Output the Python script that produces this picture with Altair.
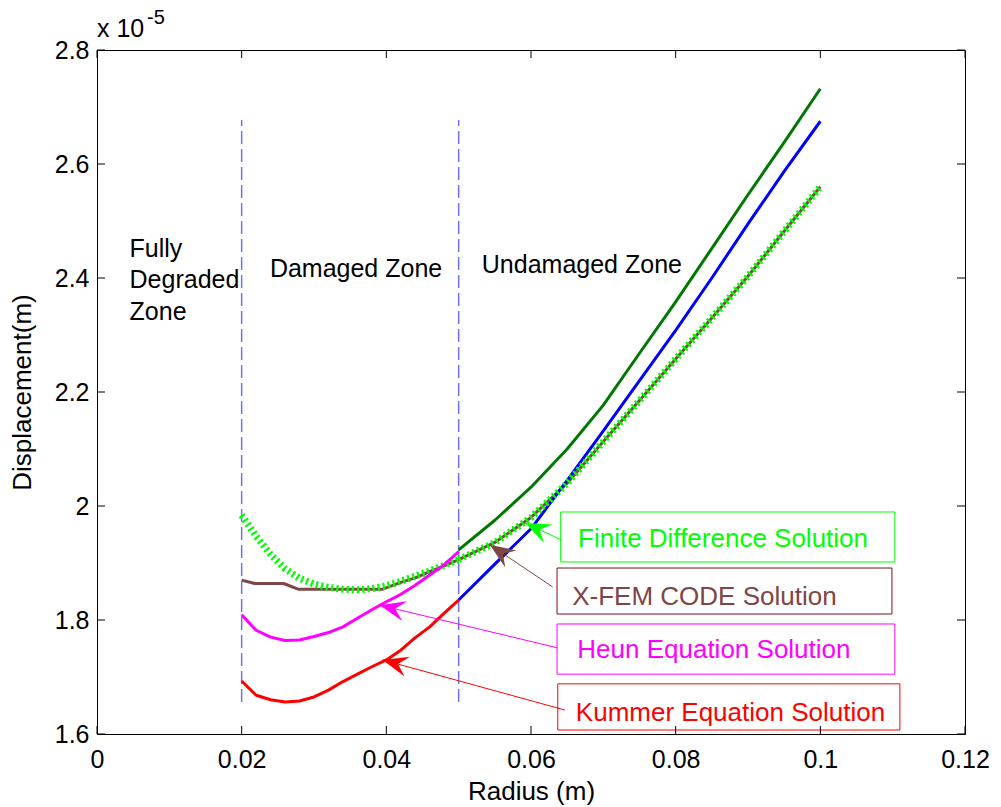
import math
import altair as alt
import pandas as pd

# ---------------- data (displacement in units of 1e-5 m) ----------------
x_ticks = [0, 0.02, 0.04, 0.06, 0.08, 0.1, 0.12]
y_ticks = [1.6, 1.8, 2.0, 2.2, 2.4, 2.6, 2.8]

r_damaged = [0.020, 0.022, 0.024, 0.026, 0.028, 0.030, 0.032, 0.034,
             0.036, 0.038, 0.040, 0.042, 0.044, 0.046, 0.048, 0.050]
kummer_damaged = [1.693, 1.668, 1.660, 1.656, 1.658, 1.665, 1.677, 1.692,
                  1.705, 1.718, 1.730, 1.747, 1.769, 1.788, 1.812, 1.835]
heun_damaged = [1.809, 1.782, 1.770, 1.764, 1.765, 1.771, 1.778, 1.788,
                1.803, 1.818, 1.832, 1.845, 1.861, 1.879, 1.897, 1.920]
fd_damaged = [1.984, 1.947, 1.915, 1.890, 1.873, 1.863, 1.857, 1.854,
              1.853, 1.855, 1.860, 1.868, 1.877, 1.886, 1.896, 1.906]
r_xfem_damaged = [0.020, 0.0218, 0.0258, 0.0278, 0.0395, 0.042, 0.044, 0.046, 0.048, 0.050]
xfem_damaged = [1.870, 1.864, 1.864, 1.854, 1.854, 1.866, 1.874, 1.885, 1.895, 1.906]

r_undamaged = [0.050, 0.055, 0.060, 0.065, 0.070, 0.075, 0.080, 0.085, 0.090, 0.095, 0.100]
kummer_undamaged = [1.835, 1.898, 1.960, 2.045, 2.132, 2.220, 2.308, 2.400, 2.495, 2.587, 2.675]
heun_undamaged = [1.923, 1.975, 2.033, 2.100, 2.177, 2.268, 2.358, 2.452, 2.546, 2.638, 2.732]
xfem_undamaged = [1.906, 1.936, 1.980, 2.040, 2.113, 2.185, 2.258, 2.330, 2.403, 2.482, 2.560]
fd_undamaged = [1.906, 1.936, 1.980, 2.040, 2.113, 2.185, 2.258, 2.330, 2.403, 2.482, 2.560]

zone_bounds = [0.02, 0.05]
zone_line_lo = 1.656
zone_line_hi = 2.677

zone_text = ["Fully", "Degraded", "Zone", "Damaged Zone", "Undamaged Zone"]
zone_r = [0.0045, 0.0045, 0.0045, 0.0239, 0.0532]
zone_v = [2.4368, 2.3825, 2.3263, 2.4018, 2.4088]

ann_labels = ["Finite Difference Solution", "X-FEM CODE Solution",
              "Heun Equation Solution", "Kummer Equation Solution"]
ann_text_colors = ["#00ff00", "#804545", "#ff00ff", "#ff0000"]
ann_edge_colors = ["#00ff00", "#7a1010", "#ff00ff", "#ff0000"]
box_r0 = [0.0641, 0.0636, 0.0636, 0.0637]
box_r1 = [0.1103, 0.1099, 0.1103, 0.1110]
box_v0 = [1.9018, 1.8105, 1.7050, 1.6070]
box_v1 = [1.9895, 1.8912, 1.7930, 1.6880]
text_r = [0.0665, 0.0657, 0.0664, 0.0662]
text_v = [1.9281, 1.8263, 1.7333, 1.6228]
arrow_r0 = [0.0643, 0.0630, 0.0637, 0.0647]
arrow_v0 = [1.940, 1.858, 1.751, 1.642]
arrow_r1 = [0.0592, 0.0543, 0.0391, 0.0395]
arrow_v1 = [1.970, 1.932, 1.826, 1.730]

# ---------------- layout ----------------
W, H = 868, 684
FONT = "Liberation Sans"
xs = alt.Scale(domain=[0, 0.12], nice=False, zero=False)
ys = alt.Scale(domain=[1.6, 2.8], nice=False, zero=False)

x_axis = alt.Axis(values=x_ticks, format=".2~g", title="Radius (m)", grid=False, ticks=False,
                  domain=False, labelFontSize=25, labelPadding=13, labelFlush=False,
                  labelOverlap=False, labelColor="black", labelFont=FONT,
                  titleFont=FONT, titleFontSize=26, titleFontWeight="normal",
                  titleColor="black", titleX=W / 2, titleY=65, titleBaseline="alphabetic")
y_axis = alt.Axis(values=y_ticks, format=".2~g", title="Displacement(m)", grid=False, ticks=False,
                  domain=False, labelFontSize=25, labelPadding=8, labelOverlap=False,
                  labelColor="black", labelFont=FONT, titleFont=FONT, titleFontSize=26,
                  titleFontWeight="normal", titleColor="black", titleAngle=270,
                  titleX=-67, titleY=H / 2, titleBaseline="alphabetic", titleAlign="center")


def X(field):
    return alt.X(field, type="quantitative", scale=xs, axis=x_axis)


def Y(field):
    return alt.Y(field, type="quantitative", scale=ys, axis=y_axis)


def line(rs, vs, color, width=3, dash=None):
    df = pd.DataFrame({"r": rs, "v": vs})
    kw = dict(color=color, strokeWidth=width, strokeCap="butt", strokeJoin="round")
    if dash:
        kw["strokeDash"] = dash
    return alt.Chart(df).mark_line(**kw).encode(x=X("r"), y=Y("v"), order="r:Q")


# zone separators
zdf = pd.DataFrame({"r": zone_bounds, "v": [zone_line_lo] * 2, "v2": [zone_line_hi] * 2})
zone_lines = alt.Chart(zdf).mark_rule(color="#7070ff", strokeWidth=1.5, strokeDash=[13, 5]).encode(
    x=X("r"), y=Y("v"), y2="v2")

layers = [
    zone_lines,
    line(r_xfem_damaged, xfem_damaged, "#804545"),
    line(r_undamaged, xfem_undamaged, "#804545"),
    line(r_undamaged, kummer_undamaged, "#0000ff"),
    line(r_undamaged, heun_undamaged, "#007800"),
    line(r_damaged, kummer_damaged, "#ff0000"),
    line(r_damaged, fd_damaged, "#00ff00", width=7, dash=[2.2, 3]),
    line(r_undamaged, fd_undamaged, "#00ff00", width=7, dash=[2.2, 3]),
    line(r_damaged, heun_damaged, "#ff00ff"),
]

# zone labels
zt = pd.DataFrame({"r": zone_r, "v": zone_v, "t": zone_text})
layers.append(alt.Chart(zt).mark_text(align="left", baseline="alphabetic", font=FONT,
                                       fontSize=25, color="black").encode(
    x=X("r"), y=Y("v"), text="t:N"))

# annotation boxes, arrows, text
px_per_r = W / 0.12
px_per_v = H / 1.2
angles = []
for a0, b0, a1, b1 in zip(arrow_r0, arrow_v0, arrow_r1, arrow_v1):
    dx = (a1 - a0) * px_per_r
    dy = -(b1 - b0) * px_per_v
    angles.append(math.degrees(math.atan2(dy, dx)) % 360)

adf = pd.DataFrame({
    "label": ann_labels, "r": box_r0, "r2": box_r1, "v": box_v0, "v2": box_v1,
    "tr": text_r, "tv": text_v, "ar0": arrow_r0, "av0": arrow_v0,
    "ar1": arrow_r1, "av1": arrow_v1, "ang": angles,
})
edge_scale = alt.Scale(domain=ann_labels, range=ann_edge_colors)
text_scale = alt.Scale(domain=ann_labels, range=ann_text_colors)

boxes = alt.Chart(adf).mark_rect(fillOpacity=0, strokeWidth=1).encode(
    x=X("r"), x2="r2", y=Y("v"), y2="v2",
    stroke=alt.Stroke("label:N", scale=edge_scale, legend=None))
arrow_lines = alt.Chart(adf).mark_rule(strokeWidth=1).encode(
    x=X("ar0"), y=Y("av0"), x2="ar1", y2="av1",
    color=alt.Color("label:N", scale=text_scale, legend=None))
ARROW = "M0,0 L-1,-0.4 L-0.62,0 L-1,0.4 Z"
arrow_heads = alt.Chart(adf).mark_point(shape=ARROW, filled=True, size=2600, strokeWidth=0,
                                        opacity=1).encode(
    x=X("ar1"), y=Y("av1"), angle=alt.Angle("ang:Q", scale=None),
    color=alt.Color("label:N", scale=text_scale, legend=None))
ann_text = alt.Chart(adf).mark_text(align="left", baseline="alphabetic", font=FONT,
                                    fontSize=26).encode(
    x=X("tr"), y=Y("tv"), text="label:N",
    color=alt.Color("label:N", scale=text_scale, legend=None))
layers += [boxes, arrow_lines, arrow_heads, ann_text]

# inward tick marks on all four sides
xt = pd.DataFrame({"r": x_ticks})
yt = pd.DataFrame({"v": y_ticks})
TL = 8
layers += [
    alt.Chart(xt).mark_rule(color="black", strokeWidth=1).encode(
        x=X("r"), y=alt.value(H), y2=alt.value(H - TL)),
    alt.Chart(xt).mark_rule(color="black", strokeWidth=1).encode(
        x=X("r"), y=alt.value(0), y2=alt.value(TL)),
    alt.Chart(yt).mark_rule(color="black", strokeWidth=1).encode(
        y=Y("v"), x=alt.value(0), x2=alt.value(TL)),
    alt.Chart(yt).mark_rule(color="black", strokeWidth=1).encode(
        y=Y("v"), x=alt.value(W), x2=alt.value(W - TL)),
]

# exponent label
layers.append(alt.Chart(pd.DataFrame({"t": ["x 10"]})).mark_text(
    align="left", baseline="alphabetic", font=FONT, fontSize=25, color="black").encode(
    x=alt.value(0), y=alt.value(-13), text="t:N"))
layers.append(alt.Chart(pd.DataFrame({"t": ["-5"]})).mark_text(
    align="left", baseline="alphabetic", font=FONT, fontSize=20, color="black").encode(
    x=alt.value(50), y=alt.value(-26), text="t:N"))

chart = alt.layer(*layers).properties(
    width=W, height=H,
    autosize=alt.AutoSizeParams(type="none"),
    padding={"left": 97, "top": 50, "right": 36, "bottom": 73},
    background="white",
).configure_view(stroke="black", strokeWidth=1)

chart.save("out.html", embed_options={"renderer": "svg", "actions": False})
